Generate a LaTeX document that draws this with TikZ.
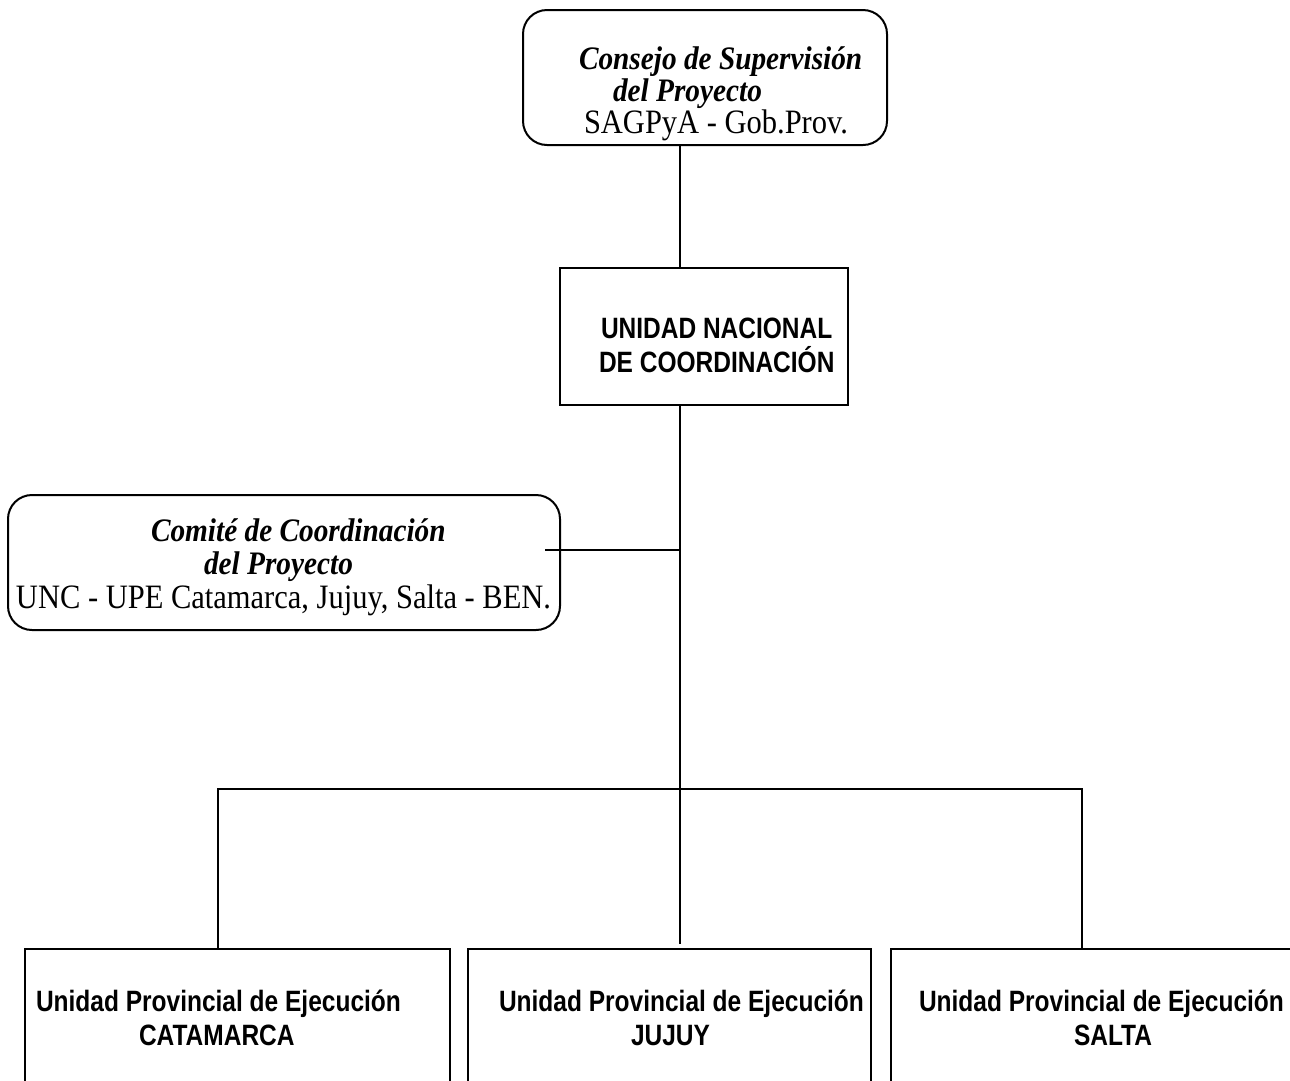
\documentclass[tikz,border=0pt]{standalone}
\usepackage{fontspec}
\setmainfont{Liberation Serif}
\setsansfont{Liberation Sans}
\newcommand{\tallS}[1]{\scalebox{1}[1.2]{#1}}
\newcommand{\tallR}[1]{\scalebox{1}[1.12]{#1}}
\begin{document}
\begin{tikzpicture}[x=1pt,y=-1pt,
  line width=2pt,
  roundbox/.style={draw, rounded corners=24pt, inner sep=0pt},
  sqbox/.style={draw, inner sep=0pt},
  serifit/.style={anchor=base west, inner sep=0pt, font=\fontsize{29.3}{32}\selectfont\bfseries\itshape},
  serifrm/.style={anchor=base west, inner sep=0pt, font=\fontsize{30.5}{32}\selectfont},
  sansb/.style={anchor=base west, inner sep=0pt, font=\fontsize{24.5}{28}\selectfont\sffamily\bfseries}]
\clip (0,0) rectangle (1290,1080);
\fill[white] (0,0) rectangle (1290,1080);
% boxes
\node[roundbox, minimum width=364pt, minimum height=135pt] (consejo) at (705,77.5) {};
\node[sqbox, minimum width=288pt, minimum height=137pt] (unc) at (704,336.5) {};
\node[roundbox, minimum width=552pt, minimum height=135pt] (comite) at (284,562.5) {};
\node[sqbox, minimum width=425pt, minimum height=161pt] (cat) at (237.5,1029.5) {};
\node[sqbox, minimum width=403pt, minimum height=161pt] (juj) at (669.5,1029.5) {};
\node[sqbox, minimum width=409pt, minimum height=161pt] (sal) at (1095.5,1029.5) {};
% texts
\node[serifit] (t1) at (578,69) {\tallR{Consejo de Supervisión}};
\node[serifit] (t2) at (612,101) {\tallR{del Proyecto}};
\node[serifrm] (t3) at (583,133) {\tallR{SAGPyA - Gob.Prov.}};
\node[sansb] (u1) at (600,338) {\tallS{UNIDAD NACIONAL}};
\node[sansb] (u2) at (598,372) {\tallS{DE COORDINACIÓN}};
\node[serifit] (c1) at (150,541) {\tallR{Comité de Coordinación}};
\node[serifit] (c2) at (203,574) {\tallR{del Proyecto}};
\node[serifrm] (c3) at (15,608) {\tallR{UNC - UPE Catamarca, Jujuy, Salta - BEN.}};
\node[sansb] (p1) at (35,1011) {\tallS{Unidad Provincial de Ejecución}};
\node[sansb] (p2) at (138,1045) {\tallS{CATAMARCA}};
\node[sansb] (p3) at (498,1011) {\tallS{Unidad Provincial de Ejecución}};
\node[sansb] (p4) at (630,1045) {\tallS{JUJUY}};
\node[sansb] (p5) at (918,1011) {\tallS{Unidad Provincial de Ejecución}};
\node[sansb] (p6) at (1073,1045) {\tallS{SALTA}};
% connectors
\coordinate (spine) at (680,0);
\coordinate (bus) at (680,789);
\coordinate (catin) at (218,0);
\coordinate (salin) at (1082,0);
\coordinate (cstub) at (545,550);
\coordinate (jend) at (680,944);
\draw (consejo.south -| spine) -- (unc.north -| spine);
\draw (unc.south -| spine) -- (bus) -- (jend);
\draw (cstub) -- (cstub -| spine);
\draw (cat.north -| catin) -- (catin |- bus) -- (salin |- bus) -- (sal.north -| salin);
\end{tikzpicture}
\end{document}
